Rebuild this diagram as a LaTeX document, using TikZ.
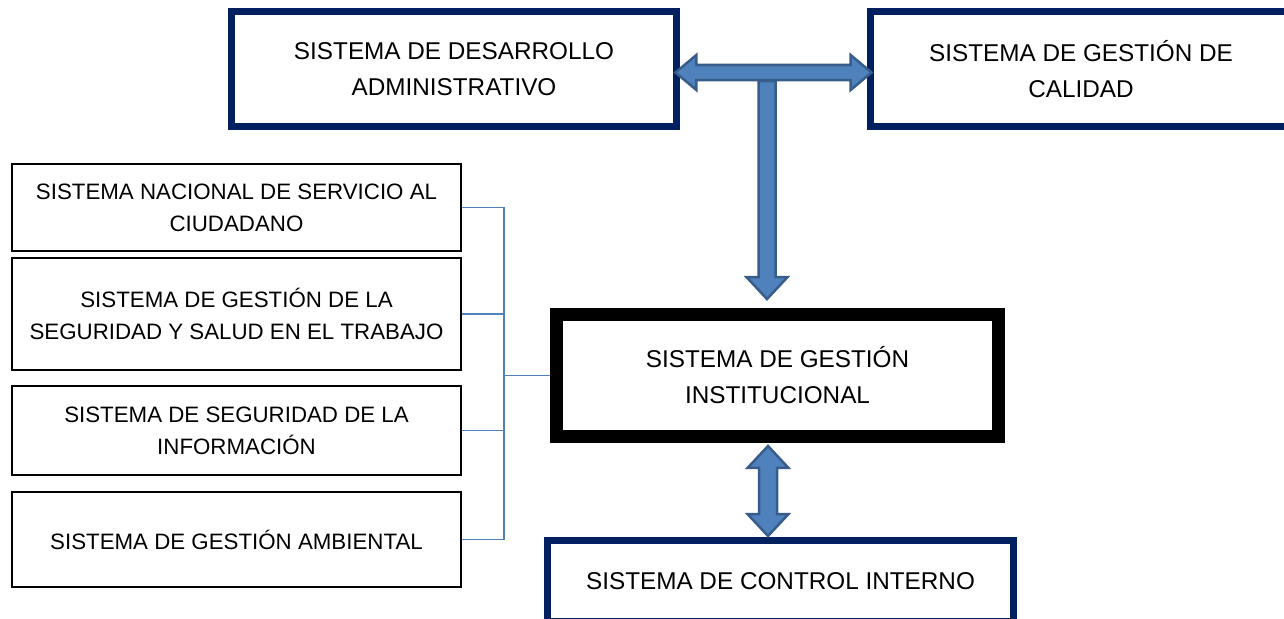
\documentclass[tikz,border=0pt]{standalone}
\usepackage{fontspec}
\setmainfont{Liberation Sans}
\usetikzlibrary{shapes.arrows,calc}
\definecolor{azulosc}{RGB}{0,32,96}
\definecolor{azulfl}{RGB}{79,129,189}
\definecolor{azulbd}{RGB}{56,93,138}

\begin{document}
\begin{tikzpicture}[x=1pt,y=-1pt,
  marco/.style={draw=azulosc, line width=7pt, fill=white, align=center, inner sep=0pt, font=\fontsize{24.3}{36}\selectfont},
  marconegro/.style={marco, draw=black, line width=13pt},
  caja/.style={draw=black, line width=2pt, fill=white, align=center, inner sep=0pt, font=\fontsize{22.3}{32}\selectfont},
  llave/.style={draw=azulfl, line width=1.5pt},
  flecha/.style={fill=azulfl, draw=azulbd, line width=2.5pt, inner sep=0pt, outer sep=0pt}]
  \useasboundingbox (0,0) rectangle (1284,618);
  \clip (0,0) rectangle (1284,618);
  \node[marco, minimum width=445, minimum height=115] (desarrollo) at (454,69) {SISTEMA DE DESARROLLO\\ADMINISTRATIVO};
  \node[marco, minimum width=421, minimum height=115] (calidad) at (1081,69) {SISTEMA DE GESTIÓN DE\\CALIDAD};
  \node[marconegro, minimum width=442, minimum height=122] (institucional) at (777.5,375.5) {SISTEMA DE GESTIÓN\\INSTITUCIONAL};
  \node[marco, minimum width=466, minimum height=81] (control) at (780.5,581) {SISTEMA DE CONTROL INTERNO};
  \node[caja, minimum width=449, minimum height=87] (ciudadano) at (236.5,207.5) {SISTEMA NACIONAL DE SERVICIO AL\\CIUDADANO};
  \node[caja, minimum width=449, minimum height=112] (seguridad) at (236.5,314) {SISTEMA DE GESTIÓN DE LA\\SEGURIDAD Y SALUD EN EL TRABAJO};
  \node[caja, minimum width=449, minimum height=89] (informacion) at (236.5,430.5) {SISTEMA DE SEGURIDAD DE LA\\INFORMACIÓN};
  \node[caja, minimum width=449, minimum height=95] (ambiental) at (236.5,539.5) {SISTEMA DE GESTIÓN AMBIENTAL};
  \coordinate (bus) at (504,0);
  \draw[llave] (ciudadano.east) -- (ciudadano.east -| bus) -- (ambiental.east -| bus) -- (ambiental.east);
  \draw[llave] (seguridad.east) -- (seguridad.east -| bus);
  \draw[llave] (informacion.east) -- (informacion.east -| bus);
  \draw[llave] (bus |- institucional.west) -- (institucional.west);
  \node[flecha, double arrow, double arrow head extend=10pt, double arrow tip angle=80, inner ysep=6.25pt, minimum height=196] (flechah) at ($(desarrollo.east)!0.5!(calidad.west)+(0,3.5)$) {};
  \node[flecha, single arrow, single arrow head extend=12pt, single arrow tip angle=86, inner ysep=7.25pt, minimum height=218, rotate=-90] (flechav) at (767,185.5) {};
  \node[flecha, double arrow, double arrow head extend=11.5pt, double arrow tip angle=86, inner ysep=7.75pt, minimum height=90, rotate=90] (flechab) at ($(institucional.south)!0.5!(control.north)+(-11,1)$) {};
\end{tikzpicture}
\end{document}
